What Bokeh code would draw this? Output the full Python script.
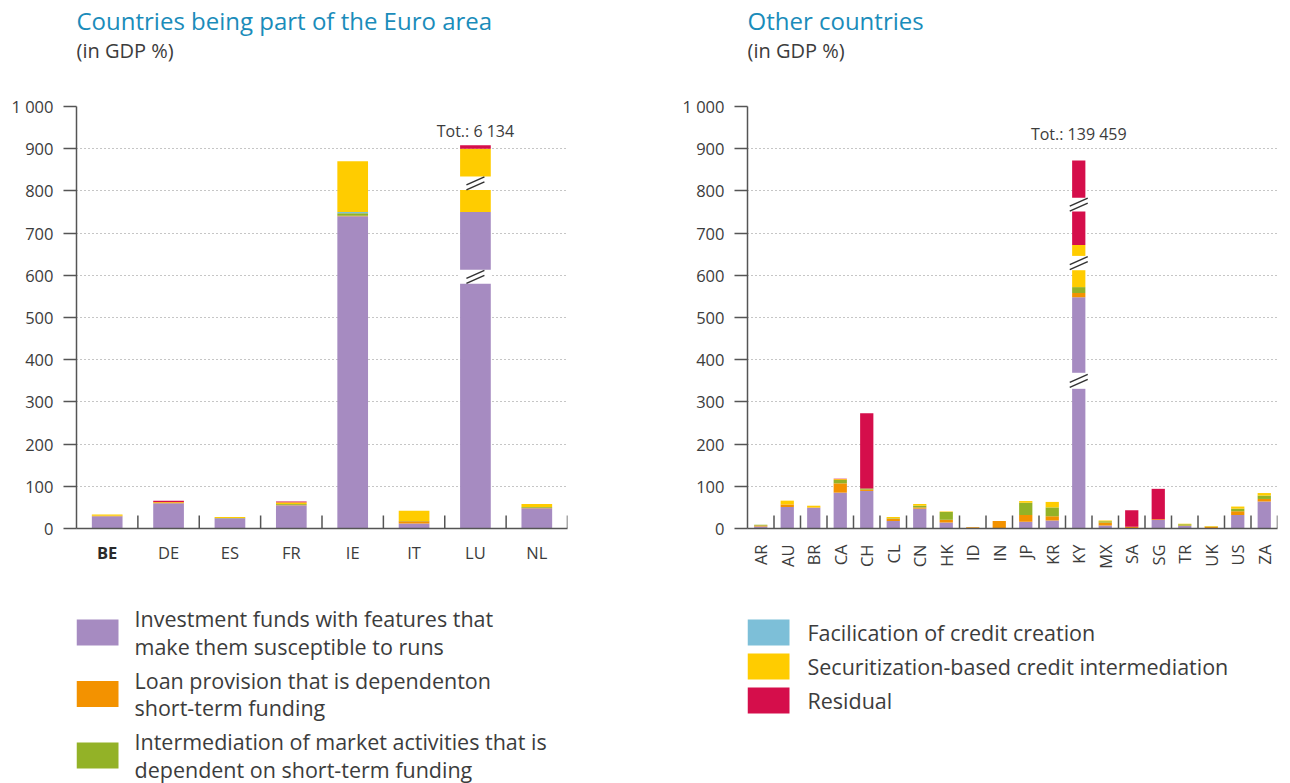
import math
from bokeh.plotting import figure
from bokeh.models import ColumnDataSource, FactorRange, FixedTicker, Range1d
from bokeh.layouts import row, column
from bokeh.embed import file_html
from bokeh.resources import INLINE
from bokeh.core.properties import value

# ---------------- data ----------------
series_keys = ["funds", "loans", "market", "credit", "securit", "residual"]
series_names = [
    ["Investment funds with features that", "make them susceptible to runs"],
    ["Loan provision that is dependenton", "short-term funding"],
    ["Intermediation of market activities that is", "dependent on short-term funding"],
    ["Facilication of credit creation"],
    ["Securitization-based credit intermediation"],
    ["Residual"],
]
series_colors = ["#A68BC1", "#F39200", "#93B227", "#7DBFD8", "#FFCC00", "#D50E4B"]

euro_title = "Countries being part of the Euro area"
other_title = "Other countries"
unit_label = "(in GDP %)"

euro_countries = ["BE", "DE", "ES", "FR", "IE", "IT", "LU", "NL"]
euro_funds    = [29, 60, 24, 55, 740, 12, 750, 48]
euro_loans    = [1, 2, 0, 1, 1, 5, 0, 1]
euro_market   = [0, 0, 1, 2, 6, 1, 0, 2]
euro_credit   = [0, 0, 0, 0, 3, 0, 0, 0]
euro_securit  = [3, 1, 2, 4, 120, 24, 150, 7]
euro_residual = [0, 3, 0, 2, 0, 0, 8, 0]
# axis breaks drawn on the truncated bar (value ranges hidden by the break)
euro_break_country = ["LU", "LU"]
euro_break_low     = [580, 802]
euro_break_high    = [613, 834]
euro_total_country = "LU"
euro_total_text    = "Tot.: 6 134"

other_countries = ["AR", "AU", "BR", "CA", "CH", "CL", "CN", "HK", "ID", "IN",
                   "JP", "KR", "KY", "MX", "SA", "SG", "TR", "UK", "US", "ZA"]
other_funds    = [5, 51, 49, 85, 89, 18, 47, 14, 0, 1, 16, 19, 548, 7, 1, 20, 6, 1, 32, 64]
other_loans    = [2, 6, 1, 22, 3, 5, 3, 7, 3, 17, 16, 10, 10, 7, 3, 2, 1, 3, 9, 6]
other_market   = [2, 0, 0, 8, 3, 1, 4, 18, 0, 0, 29, 21, 14, 3, 0, 0, 3, 1, 6, 8]
other_credit   = [0] * 20
other_securit  = [0, 9, 4, 2, 0, 3, 4, 1, 0, 0, 4, 13, 100, 2, 0, 0, 1, 1, 5, 6]
other_residual = [0, 0, 0, 1, 178, 0, 0, 0, 0, 0, 0, 0, 200, 0, 39, 72, 0, 0, 0, 0]
other_break_country = ["KY", "KY", "KY"]
other_break_low     = [331, 612, 751]
other_break_high    = [369, 646, 784]
other_total_country = "KY"
other_total_text    = "Tot.: 139 459"

y_ticks = list(range(0, 1001, 100))

# ---------------- styling ----------------
FONT = "Open Sans"
TEXT = "#3c3c3c"
AXIS = "#555555"
TITLE_BLUE = "#1a8cba"
TOP_H, CHART_H, STRIP_H, LEG_H = 88, 452, 40, 203
BORDER_TOP, BORDER_BOTTOM = 18, 12
FRAME_H = CHART_H - BORDER_TOP - BORDER_BOTTOM
PX_PER_UNIT = FRAME_H / 1000.0


def panel(x_range, y0, w, h, bl, br):
    # y range in page pixels (downwards); frame aligned with the chart frame
    p = figure(x_range=x_range, y_range=Range1d(y0 + h, y0),
               width=w, height=h, min_border_left=bl, min_border_right=br,
               min_border_top=0, min_border_bottom=0,
               x_axis_type=None, y_axis_type=None,
               output_backend="svg", toolbar_location=None)
    p.outline_line_color = None
    return p


def chart(cats, data, width, bl, br, brk, total_country, total_text, total_y):
    frame_w = width - bl - br
    band_px = frame_w / len(cats)
    src = ColumnDataSource(dict(country=cats, **dict(zip(series_keys, data))))
    xr = FactorRange(factors=cats, range_padding=0)
    p = figure(x_range=xr, y_range=Range1d(0, 1000),
               width=width, height=CHART_H, min_border_left=bl, min_border_right=br,
               min_border_top=BORDER_TOP, min_border_bottom=BORDER_BOTTOM,
               output_backend="svg", toolbar_location=None)
    p.outline_line_color = None
    p.xgrid.visible = False
    p.ygrid.grid_line_color = "#8c8c8c"
    p.ygrid.grid_line_dash = "1 3"
    p.ygrid.grid_line_width = 1

    p.vbar_stack(series_keys, x="country", width=0.5, source=src,
                 fill_color=series_colors, line_color=None)

    # axis breaks
    bc, bl_, bh = brk
    xc = [cats.index(c) + 0.5 for c in bc]
    yc = [(a + b) / 2 for a, b in zip(bl_, bh)]
    p.rect(x=xc, y=yc, width=0.5 + 2 / band_px, height=[b - a for a, b in zip(bl_, bh)],
           fill_color="white", line_color=None)
    dx = 9 / band_px
    dy = 4 / PX_PER_UNIT
    for off in (-2.5, 2.5):
        o = off / PX_PER_UNIT
        p.segment(x0=[x - dx for x in xc], y0=[y + o - dy for y in yc],
                  x1=[x + dx for x in xc], y1=[y + o + dy for y in yc],
                  line_color="#333333", line_width=1.4)

    # total label
    p.text(x=[total_country], y=[total_y], text=[total_text], text_font=value(FONT),
           text_font_size="16px", text_color=TEXT, text_align="center", text_baseline="middle")

    # category separators
    p.ray(x=list(range(1, len(cats) + 1)), y=0, length=13, length_units="screen",
          angle=math.pi / 2, line_color=AXIS, line_width=1.5)

    ya = p.yaxis[0]
    ya.ticker = FixedTicker(ticks=y_ticks)
    ya.major_label_overrides = {1000: "1 000"}
    ya.major_tick_out = 13
    ya.major_tick_in = 0
    ya.minor_tick_line_color = None
    ya.axis_line_color = AXIS
    ya.axis_line_width = 1.5
    ya.major_tick_line_color = AXIS
    ya.major_tick_line_width = 1.5
    ya.major_label_standoff = 10
    ya.major_label_text_font = FONT
    ya.major_label_text_font_size = "16.5px"
    ya.major_label_text_color = TEXT

    xa = p.xaxis[0]
    xa.major_tick_line_color = None
    xa.major_tick_in = 0
    xa.major_tick_out = 0
    xa.axis_line_color = AXIS
    xa.axis_line_width = 1.5
    # category labels are drawn in the strip below (first one in bold)
    xa.major_label_text_font_size = "0px"
    xa.major_label_text_color = None
    xa.major_label_standoff = 0
    return p, xr


def label_strip(xr, cats, w, bl, br, rotate, bold_first):
    y0 = TOP_H + CHART_H
    p = panel(xr, y0, w, STRIP_H, bl, br)
    common = dict(text_font=value(FONT), text_font_size="16.5px", text_color=TEXT)
    if rotate:
        p.text(x=cats, y=[y0 + 4] * len(cats), text=cats, angle=math.pi / 2,
               text_align="right", text_baseline="middle", **common)
    else:
        start = 1 if bold_first else 0
        ly = y0 + 12
        if bold_first:
            p.text(x=cats[:1], y=[ly], text=cats[:1], text_align="center",
                   text_baseline="middle", text_font_style="bold",
                   text_font=value(FONT), text_font_size="16.5px", text_color="#2a2a2a")
        p.text(x=cats[start:], y=[ly] * (len(cats) - start), text=cats[start:],
               text_align="center", text_baseline="middle", **common)
    return p


def titles(x0, w, bl, br, title):
    p = panel(Range1d(x0 + bl, x0 + w - br), 0, w, TOP_H, bl, br)
    tx = x0 + bl
    p.text(x=[tx], y=[20], text=[title], text_font=value(FONT), text_font_size="24px",
           text_color=TITLE_BLUE, text_baseline="middle")
    p.text(x=[tx], y=[50], text=[unit_label], text_font=value(FONT), text_font_size="20px",
           text_color=TEXT, text_baseline="middle")
    return p


def legend(x0, w, bl, br, idxs, text_dx, first_y, spacing):
    p = panel(Range1d(x0 + bl, x0 + w - br), TOP_H + CHART_H + STRIP_H, w, LEG_H, bl, br)
    sx = x0 + bl
    line_h = 27.5
    for k, i in enumerate(idxs):
        lines = series_names[i]
        yc = first_y + k * spacing
        p.rect(x=[sx + 21], y=[yc], width=42, height=26, fill_color=series_colors[i], line_color=None)
        n = len(lines)
        ys = [yc + (j - (n - 1) / 2) * line_h for j in range(n)]
        p.text(x=[sx + text_dx] * n, y=ys, text=lines, text_font=value(FONT), text_font_size="21.5px",
               text_color=TEXT, text_baseline="middle", text_align="left")
    return p


LW, RW = 640, 650
LBL, LBR = 76, 73
RBL, RBR = 107, 13
left_chart, left_xr = chart(euro_countries,
                            [euro_funds, euro_loans, euro_market, euro_credit, euro_securit, euro_residual],
                            LW, LBL, LBR,
                            (euro_break_country, euro_break_low, euro_break_high),
                            euro_total_country, euro_total_text, 943)
right_chart, right_xr = chart(other_countries,
                              [other_funds, other_loans, other_market, other_credit, other_securit, other_residual],
                              RW, RBL, RBR,
                              (other_break_country, other_break_low, other_break_high),
                              other_total_country, other_total_text, 936)

left_col = column(titles(0, LW, LBL, LBR, euro_title), left_chart,
                  label_strip(left_xr, euro_countries, LW, LBL, LBR, False, True),
                  legend(0, LW, LBL, LBR, [0, 1, 2], 58, 632, 61.5))
right_col = column(titles(LW, RW, RBL, RBR, other_title), right_chart,
                   label_strip(right_xr, other_countries, RW, RBL, RBR, True, False),
                   legend(LW, RW, RBL, RBR, [3, 4, 5], 60, 632, 34))
layout = row(left_col, right_col)

open("out.html", "w").write(file_html(layout, INLINE))
